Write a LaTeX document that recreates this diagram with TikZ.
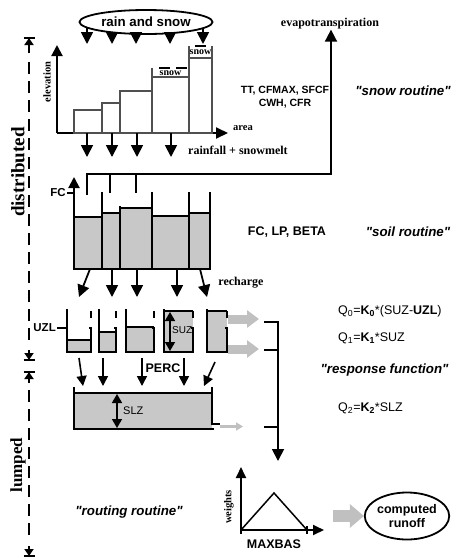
\documentclass[tikz,border=0pt]{standalone}
\usepackage{fontspec}
\setmainfont{Liberation Serif}
\setsansfont{Liberation Sans}
\newfontfamily\quotefont{Liberation Sans}
\usetikzlibrary{arrows.meta,shapes.geometric}
\definecolor{fillgray}{RGB}{200,200,200}
\definecolor{arrgray}{RGB}{192,192,192}
\definecolor{bargray}{RGB}{80,80,80}
\begin{document}
\begin{tikzpicture}[x=1pt,y=-1pt,
  wall/.style={line width=1.8pt},
  thinline/.style={line width=1.1pt},
  bigarr/.style={line width=1.8pt,-{Triangle[width=12pt,length=12pt]}},
  midarr/.style={line width=1.6pt,-{Triangle[width=10pt,length=10pt]}},
  dblarr/.style={line width=1.6pt,{Triangle[width=10pt,length=9pt]}-{Triangle[width=10pt,length=9pt]}},
  grayarrow/.style={draw=arrgray,line width=9pt,-{Triangle[width=17pt,length=12pt]}},
  serifl/.style={inner sep=0pt,font=\fontsize{12}{13}\selectfont\bfseries},
  serifs/.style={inner sep=0pt,font=\fontsize{10}{11}\selectfont\bfseries},
  sansb/.style={inner sep=0pt,font=\fontsize{12}{13}\selectfont\sffamily\bfseries},
  sansr/.style={inner sep=0pt,font=\fontsize{10}{11}\selectfont\sffamily},
  routine/.style={inner sep=0pt,font=\fontsize{13.3}{14}\selectfont\quotefont\bfseries\itshape},
  eqn/.style={inner sep=0pt,anchor=west,font=\fontsize{12.5}{13}\selectfont\sffamily},
  scalelabel/.style={inner sep=0pt,font=\fontsize{18}{19}\selectfont\bfseries,rotate=90},
]
\useasboundingbox (0,0) rectangle (451,558);

% ---------------- snow routine ----------------
\node[ellipse,draw,fill=white,line width=1.8pt,minimum width=133pt,minimum height=24pt,inner sep=0pt,
  font=\fontsize{13.3}{14}\selectfont\sffamily\bfseries] (rain) at (146,22) {rain and snow};
\coordinate (r1) at (87,28);  \coordinate (r1e) at (87,44);
\coordinate (r2) at (112,32); \coordinate (r2e) at (112,44);
\coordinate (r3) at (136,33); \coordinate (r3e) at (136,44);
\coordinate (r4) at (170,33); \coordinate (r4e) at (170,44);
\coordinate (r5) at (203,28); \coordinate (r5e) at (203,44);
\foreach \a in {1,...,5}{\draw[bigarr] (r\a) -- (r\a e);}

\coordinate (o1) at (57,133);
\coordinate (ytop1) at (57,45);
\coordinate (xend1) at (228,133);
\draw[line width=2pt,-{Triangle[width=11pt,length=11pt]}] (o1) -- (ytop1);
\draw[line width=2pt,-{Triangle[width=11pt,length=12pt]}] (o1) -- (xend1);

\begin{scope}[draw=bargray,line width=1.2pt]
\draw (74,133) rectangle (102,110);
\draw (102,133) rectangle (120,103);
\draw (120,133) rectangle (152,91);
\draw (152,133) rectangle (189,77);
\draw (189,133) rectangle (212,58);
\draw (152,77) -- (152,68) (189,77) -- (189,68);
\draw (189,58) -- (189,46) (212,58) -- (212,46);
\end{scope}
\draw[line width=2pt] (159,68) -- (170,68) (176,68) -- (187,68) (195,46) -- (206,46);
\node[serifs] (snow1) at (170.5,73) {snow};
\node[serifs] (snow2) at (200.5,52.5) {snow};

\node[serifs,rotate=90,font=\fontsize{10.5}{11}\selectfont\bfseries] (elev) at (47,82) {elevation};
\node[serifs,anchor=west,font=\fontsize{10.5}{11}\selectfont\bfseries] (area) at (233,128) {area};

\foreach \x in {87,112,137,171}{\draw[bigarr] (\x,133) -- (\x,157);}
\node[serifl,anchor=west] (rsm) at (188,150) {rainfall + snowmelt};

\node[sansb,align=center,font=\fontsize{10.5}{12.5}\selectfont\sffamily\bfseries] (snowpar) at (285,97) {TT, CFMAX, SFCF\\CWH, CFR};
\node[routine] (snowr) at (403,91) {"snow routine"};

% evapotranspiration
\node[serifl] (evap) at (330,24) {evapotranspiration};
\coordinate (e0) at (87,195);
\coordinate (e1) at (87,174);
\coordinate (e2) at (331,174);
\draw[line width=1.8pt,-{Triangle[width=12pt,length=12pt]}] (e0) -- (e1) -- (e2) -- (evap.south -| e2);
\draw[wall] (110,174) -- (110,193) (136,174) -- (136,193);

% ---------------- soil routine ----------------
\begin{scope}[fill=fillgray]
\fill (74,217) rectangle (102,269);
\fill (102,213) rectangle (120,269);
\fill (120,208) rectangle (152,269);
\fill (152,216) rectangle (189,269);
\fill (189,213) rectangle (210,269);
\end{scope}
\draw[thinline] (74,217) -- (102,217) (102,213) -- (120,213) (120,208) -- (152,208)
  (152,216) -- (189,216) (189,213) -- (210,213);
\draw[wall] (74,269) -- (210,269) -- (210,192);
\draw[wall] (102,192) -- (102,269) (120,206) -- (120,269) (152,192) -- (152,269) (189,192) -- (189,269);
\draw[line width=2pt,-{Triangle[width=11pt,length=11pt]}] (74,270) -- (74,177);
\draw[wall] (67,193) -- (74,193);
\node[sansb,anchor=east,font=\fontsize{11.5}{12}\selectfont\sffamily\bfseries] (fc) at (66,193) {FC};

\draw[bigarr] (90,269) -- (79,297);
\draw[bigarr] (112,269) -- (112,297);
\draw[bigarr] (137,269) -- (137,297);
\draw[bigarr] (177,269) -- (177,297);
\draw[bigarr] (200,269) -- (207,297);
\node[serifl] (rech) at (241,283) {recharge};

\node[sansb,font=\fontsize{12.5}{13}\selectfont\sffamily\bfseries] (soilpar) at (287,232) {FC, LP, BETA};
\node[routine] (soilr) at (408,232) {"soil routine"};

% ---------------- response function ----------------
\foreach \l/\r/\lev in {67/91/340, 99/116/332, 126/154/327, 164/193/311, 207/227/311}{
  \fill[fillgray] (\l,\lev) rectangle (\r,352);
  \draw[thinline] (\l,\lev) -- (\r,\lev);
  \draw[wall] (\l,309) -- (\l,352) -- (\r,352) -- (\r,328) -- (\r-2.5,328);
  \draw[wall] (\r,311) -- (\r,318);
}
\draw[dblarr] (170,312) -- (170,351);
\node[sansr,anchor=west] (suz) at (172,330) {SUZ};
\draw[wall] (57,328) -- (67,328);
\node[sansb,anchor=east,font=\fontsize{11.5}{12}\selectfont\sffamily\bfseries] (uzl) at (56,328) {UZL};

\draw[grayarrow] (228,319) -- (259,319);
\draw[grayarrow] (228,349) -- (259,349);

% percolation arrows
\draw[midarr] (79,358) -- (83,386);
\draw[midarr] (103,358) -- (103,386);
\draw[midarr] (142,358) -- (142,386);
\draw[midarr] (184,358) -- (184,386);
\draw[midarr] (215,362) -- (204,386);
\node[sansb,font=\fontsize{12.5}{13}\selectfont\sffamily\bfseries] (perc) at (163,368) {PERC};

% lower zone
\fill[fillgray] (74,393) rectangle (212,429);
\draw[thinline] (74,393) -- (212,393);
\draw[wall] (74,387) -- (74,429) -- (214,429);
\draw[wall] (212,387) -- (212,424) -- (220,424);
\draw[draw=arrgray,line width=3.5pt,-{Triangle[width=8pt,length=7pt]}] (220,426.5) -- (243,426.5);
\draw[dblarr] (117,394) -- (117,428);
\node[sansr,anchor=west,font=\fontsize{11}{12}\selectfont\sffamily] (slz) at (123,411) {SLZ};

% bracket
\coordinate (b1) at (278,322);
\coordinate (b3) at (278,427);
\coordinate (bend) at (278,461);
\draw[wall] (264,322) -- (b1) -- (b3) -- (264,427);
\draw[wall] (264,350) -- (278,350);
\draw[bigarr] (b3) -- (bend);

\node[eqn] (q0) at (338,311) {Q\textsubscript{0}=\textbf{K\textsubscript{0}}*(SUZ-\textbf{UZL})};
\node[eqn] (q1) at (338,338) {Q\textsubscript{1}=\textbf{K\textsubscript{1}}*SUZ};
\node[routine] (respr) at (384.5,370) {"response function"};
\node[eqn] (q2) at (338,408) {Q\textsubscript{2}=\textbf{K\textsubscript{2}}*SLZ};

% ---------------- routing routine ----------------
\coordinate (o2) at (241,530);
\draw[line width=1.8pt,-{Triangle[width=10pt,length=11pt]}] (o2) -- (241,467);
\draw[line width=1.8pt,-{Triangle[width=10pt,length=11pt]}] (o2) -- (324,530);
\draw[line width=1.5pt] (o2) -- (274,493) -- (307,530);
\draw[line width=1.2pt] (241,526) -- (241,534) (307,526) -- (307,534);
\node[serifs,rotate=90,font=\fontsize{10.5}{11}\selectfont\bfseries] (wts) at (229,507) {weights};
\node[sansb,font=\fontsize{12.5}{13}\selectfont\sffamily\bfseries] (maxbas) at (274,544) {MAXBAS};
\node[routine] (routr) at (129,512) {"routing routine"};

\node[ellipse,draw,line width=1.8pt,minimum width=81pt,minimum height=47pt,inner sep=0pt,align=center,
  font=\fontsize{12.5}{14}\selectfont\sffamily\bfseries] (runoff) at (407,516) {computed\\runoff};
\draw[draw=arrgray,line width=12pt,-{Triangle[width=23pt,length=14pt]}] (333,516) -- (runoff.west);

% ---------------- distributed / lumped ----------------
\draw[line width=2pt] (23.5,38) -- (34.5,38);
\draw[line width=2.5pt,-{Triangle[width=9pt,length=7pt]}] (29,53) -- (29,38);
\draw[line width=2.5pt,dash pattern=on 12pt off 7pt] (29,62) -- (29,345);
\draw[line width=2.5pt,-{Triangle[width=9pt,length=7pt]}] (29,350) -- (29,360);
\draw[line width=2pt] (23.5,360) -- (34.5,360);
\node[scalelabel,font=\fontsize{19}{20}\selectfont\bfseries] (distr) at (18,172) {distributed};

\draw[line width=2pt] (23.5,372) -- (34.5,372);
\draw[line width=2.5pt,-{Triangle[width=9pt,length=7pt]}] (29,383) -- (29,372);
\draw[line width=2.5pt,dash pattern=on 12pt off 7pt] (29,390) -- (29,540);
\draw[line width=2.5pt,-{Triangle[width=9pt,length=7pt]}] (29,546) -- (29,556);
\draw[line width=2pt] (23.5,556) -- (34.5,556);
\node[scalelabel,font=\fontsize{17}{18}\selectfont\bfseries] (lump) at (18,465) {lumped};
\end{tikzpicture}
\end{document}
